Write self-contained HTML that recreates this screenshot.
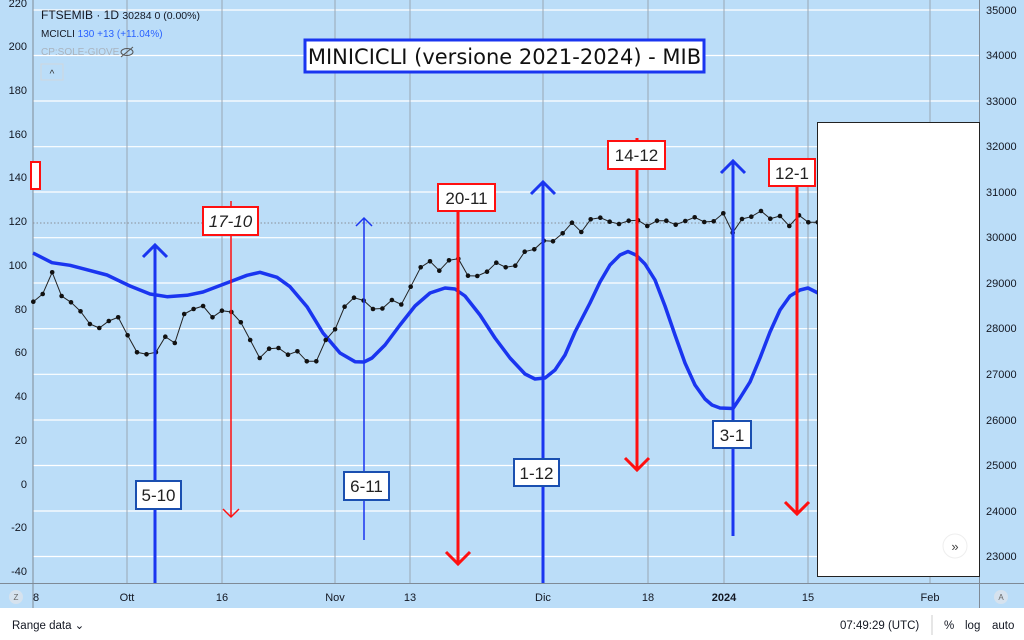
<!DOCTYPE html>
<html><head><meta charset="utf-8"><style>
html,body{margin:0;padding:0;width:1024px;height:640px;overflow:hidden;background:#fff;font-family:"Liberation Sans","DejaVu Sans",sans-serif}
</style></head><body>
<svg width="1024" height="640" viewBox="0 0 1024 640" xmlns="http://www.w3.org/2000/svg" font-family="Liberation Sans, DejaVu Sans, sans-serif">
<rect x="0" y="0" width="1024" height="608" fill="#bbddf8"/>
<rect x="0" y="608" width="1024" height="32" fill="#fff"/>
<!-- horizontal grid (right axis) -->
<g stroke="#ffffff" stroke-width="1.2">
<line x1="33" x2="979" y1="10" y2="10"/><line x1="33" x2="979" y1="55.5" y2="55.5"/><line x1="33" x2="979" y1="101" y2="101"/><line x1="33" x2="979" y1="146.7" y2="146.7"/><line x1="33" x2="979" y1="192" y2="192"/><line x1="33" x2="979" y1="237.7" y2="237.7"/><line x1="33" x2="979" y1="283" y2="283"/><line x1="33" x2="979" y1="328.7" y2="328.7"/><line x1="33" x2="979" y1="374.3" y2="374.3"/><line x1="33" x2="979" y1="420" y2="420"/><line x1="33" x2="979" y1="465.5" y2="465.5"/><line x1="33" x2="979" y1="511" y2="511"/><line x1="33" x2="979" y1="556.5" y2="556.5"/>
</g>
<!-- vertical grid -->
<g stroke="#9aa6b4" stroke-width="1">
<line x1="127" x2="127" y1="0" y2="583"/><line x1="222" x2="222" y1="0" y2="583"/><line x1="335" x2="335" y1="0" y2="583"/><line x1="410" x2="410" y1="0" y2="583"/><line x1="543" x2="543" y1="0" y2="583"/><line x1="648" x2="648" y1="0" y2="583"/><line x1="724" x2="724" y1="0" y2="583"/><line x1="808" x2="808" y1="0" y2="583"/><line x1="930" x2="930" y1="0" y2="583"/>
</g>
<!-- axes borders -->
<line x1="33" x2="33" y1="0" y2="608" stroke="#7f8a96"/>
<line x1="979.5" x2="979.5" y1="0" y2="608" stroke="#7f8a96"/>
<line x1="0" x2="1024" y1="583.5" y2="583.5" stroke="#7f8a96"/>
<!-- dotted line -->
<line x1="33" x2="979" y1="223" y2="223" stroke="#8a8f99" stroke-width="1" stroke-dasharray="1.5,2"/>
<!-- left axis -->
<g font-size="11" fill="#131722" text-anchor="end">
<text x="27" y="7">220</text><text x="27" y="50">200</text><text x="27" y="94">180</text><text x="27" y="138">160</text><text x="27" y="181">140</text><text x="27" y="225">120</text><text x="27" y="269">100</text><text x="27" y="313">80</text><text x="27" y="356">60</text><text x="27" y="400">40</text><text x="27" y="444">20</text><text x="27" y="488">0</text><text x="27" y="531">-20</text><text x="27" y="575">-40</text>
</g>
<!-- right axis -->
<g font-size="11" fill="#131722">
<text x="986" y="14">35000</text><text x="986" y="59">34000</text><text x="986" y="105">33000</text><text x="986" y="150">32000</text><text x="986" y="196">31000</text><text x="986" y="241">30000</text><text x="986" y="287">29000</text><text x="986" y="332">28000</text><text x="986" y="378">27000</text><text x="986" y="424">26000</text><text x="986" y="469">25000</text><text x="986" y="515">24000</text><text x="986" y="560">23000</text>
</g>
<!-- time axis -->
<g font-size="11" fill="#131722" text-anchor="middle">
<text x="36" y="601">8</text><text x="127" y="601">Ott</text><text x="222" y="601">16</text><text x="335" y="601">Nov</text><text x="410" y="601">13</text><text x="543" y="601">Dic</text><text x="648" y="601">18</text><text x="724" y="601" font-weight="bold">2024</text><text x="808" y="601">15</text><text x="930" y="601">Feb</text>
</g>
<circle cx="16" cy="597" r="7" fill="#d6e2ee"/><text x="16" y="600" font-size="8" fill="#666" text-anchor="middle">Z</text>
<circle cx="1001" cy="597" r="7" fill="#d6e2ee"/><text x="1001" y="600" font-size="8" fill="#666" text-anchor="middle">A</text>
<!-- bottom bar -->
<text x="12" y="629" font-size="11.5" fill="#131722">Range data ⌄</text>
<text x="840" y="629" font-size="11.5" fill="#131722">07:49:29 (UTC)</text>
<line x1="932" x2="932" y1="615" y2="635" stroke="#ccc"/>
<text x="944" y="629" font-size="11.5" fill="#131722">%</text>
<text x="965" y="629" font-size="11.5" fill="#131722">log</text>
<text x="992" y="629" font-size="11.5" fill="#131722">auto</text>
<!-- legend -->
<text x="41" y="19" font-size="12" fill="#131722">FTSEMIB · 1D <tspan font-size="10.5">30284 0 (0.00%)</tspan></text>
<text x="41" y="37" font-size="10" fill="#131722">MCICLI <tspan fill="#2962ff">130 +13 (+11.04%)</tspan></text>
<text x="41" y="55" font-size="10" fill="#a9b3be">CP:SOLE-GIOVE</text>
<ellipse cx="127" cy="52" rx="6" ry="3.5" fill="none" stroke="#555"/>
<line x1="121" y1="57" x2="133" y2="47" stroke="#555"/>
<rect x="41" y="64" width="22" height="16" fill="none" stroke="#cfd6de"/>
<text x="52" y="77" font-size="10" fill="#333" text-anchor="middle">^</text>
<!-- blue cycle curve -->
<polyline fill="none" stroke="#1a35f0" stroke-width="3.5" stroke-linejoin="round" points="33,253 52,262.7 70,265.3 83,268.7 107,275 130,286 150,294 167,296.7 187,295.3 203,292 230,281.7 247,275.3 260,272.3 277,277.3 290,286.7 307,306.7 323,333 340,353 355,361.7 364,362 372,358 385,345 400,325 415,306 430,293 445,288 455,289 465,296 480,315 495,338 510,358 525,374 535,379 545,378 555,370 565,355 575,332 590,303 600,282 610,265 620,255 628,251.5 636,255 645,264 655,280 665,306 675,335 685,363 695,385 705,399 712,405 720,408 733,408.5 740,398 750,382 760,358 770,332 780,310 790,296 800,290 808,288 818,293"/>
<!-- black price series -->
<g id="px">
<polyline fill="none" stroke="#222" stroke-width="1" points="33.3,301.7 42.7,294 52.2,272.3 61.6,296 71,302.3 80.5,311.3 89.9,324 99.3,328 108.8,321 118.2,317.3 127.6,335.3 137,352.3 146.5,354.3 155.9,352.3 165.3,336.7 174.8,343 184.2,314 193.6,309 203.1,306 212.5,317.3 221.9,310.7 231.4,312 240.8,322.3 250.2,340 259.7,358 269.1,348.7 278.5,348 288,354.7 297.4,351.3 306.8,361.3 316.3,361.3 325.7,340 335.1,329.3 344.6,306.7 354,297.7 363.6,300.5 373,309 382.4,308.5 391.9,300 401.3,304.5 410.7,286.7 420.7,267.3 430,261.3 439.3,270.7 449,260.3 458.3,258.7 468,275.7 477.3,276 487,271.7 496.3,262.7 505.7,267.3 515.3,265.7 524.7,251.7 534.3,249.3 543.7,240.7 553,241.3 562.7,233.3 572,222.7 581.3,232 590.7,219.3 600.3,217.7 609.7,221.7 619,224 628.7,220.7 638,220.3 647.3,226 657,220.7 666.3,220.7 675.7,224.7 685.3,221 694.7,217.3 704.3,222 713.7,221.3 723.3,213.3 732.7,232.7 742,219 751.3,216.7 761,211 770.3,218.7 780,216 789.3,226 799,215.3 808.3,222.3 817.7,222.3"/>
<g fill="#111">
<circle cx="33.3" cy="301.7" r="2.3"/><circle cx="42.7" cy="294" r="2.3"/><circle cx="52.2" cy="272.3" r="2.3"/><circle cx="61.6" cy="296" r="2.3"/><circle cx="71" cy="302.3" r="2.3"/><circle cx="80.5" cy="311.3" r="2.3"/><circle cx="89.9" cy="324" r="2.3"/><circle cx="99.3" cy="328" r="2.3"/><circle cx="108.8" cy="321" r="2.3"/><circle cx="118.2" cy="317.3" r="2.3"/><circle cx="127.6" cy="335.3" r="2.3"/><circle cx="137" cy="352.3" r="2.3"/><circle cx="146.5" cy="354.3" r="2.3"/><circle cx="155.9" cy="352.3" r="2.3"/><circle cx="165.3" cy="336.7" r="2.3"/><circle cx="174.8" cy="343" r="2.3"/><circle cx="184.2" cy="314" r="2.3"/><circle cx="193.6" cy="309" r="2.3"/><circle cx="203.1" cy="306" r="2.3"/><circle cx="212.5" cy="317.3" r="2.3"/><circle cx="221.9" cy="310.7" r="2.3"/><circle cx="231.4" cy="312" r="2.3"/><circle cx="240.8" cy="322.3" r="2.3"/><circle cx="250.2" cy="340" r="2.3"/><circle cx="259.7" cy="358" r="2.3"/><circle cx="269.1" cy="348.7" r="2.3"/><circle cx="278.5" cy="348" r="2.3"/><circle cx="288" cy="354.7" r="2.3"/><circle cx="297.4" cy="351.3" r="2.3"/><circle cx="306.8" cy="361.3" r="2.3"/><circle cx="316.3" cy="361.3" r="2.3"/><circle cx="325.7" cy="340" r="2.3"/><circle cx="335.1" cy="329.3" r="2.3"/><circle cx="344.6" cy="306.7" r="2.3"/><circle cx="354" cy="297.7" r="2.3"/><circle cx="363.6" cy="300.5" r="2.3"/><circle cx="373" cy="309" r="2.3"/><circle cx="382.4" cy="308.5" r="2.3"/><circle cx="391.9" cy="300" r="2.3"/><circle cx="401.3" cy="304.5" r="2.3"/><circle cx="410.7" cy="286.7" r="2.3"/><circle cx="420.7" cy="267.3" r="2.3"/><circle cx="430" cy="261.3" r="2.3"/><circle cx="439.3" cy="270.7" r="2.3"/><circle cx="449" cy="260.3" r="2.3"/><circle cx="458.3" cy="258.7" r="2.3"/><circle cx="468" cy="275.7" r="2.3"/><circle cx="477.3" cy="276" r="2.3"/><circle cx="487" cy="271.7" r="2.3"/><circle cx="496.3" cy="262.7" r="2.3"/><circle cx="505.7" cy="267.3" r="2.3"/><circle cx="515.3" cy="265.7" r="2.3"/><circle cx="524.7" cy="251.7" r="2.3"/><circle cx="534.3" cy="249.3" r="2.3"/><circle cx="543.7" cy="240.7" r="2.3"/><circle cx="553" cy="241.3" r="2.3"/><circle cx="562.7" cy="233.3" r="2.3"/><circle cx="572" cy="222.7" r="2.3"/><circle cx="581.3" cy="232" r="2.3"/><circle cx="590.7" cy="219.3" r="2.3"/><circle cx="600.3" cy="217.7" r="2.3"/><circle cx="609.7" cy="221.7" r="2.3"/><circle cx="619" cy="224" r="2.3"/><circle cx="628.7" cy="220.7" r="2.3"/><circle cx="638" cy="220.3" r="2.3"/><circle cx="647.3" cy="226" r="2.3"/><circle cx="657" cy="220.7" r="2.3"/><circle cx="666.3" cy="220.7" r="2.3"/><circle cx="675.7" cy="224.7" r="2.3"/><circle cx="685.3" cy="221" r="2.3"/><circle cx="694.7" cy="217.3" r="2.3"/><circle cx="704.3" cy="222" r="2.3"/><circle cx="713.7" cy="221.3" r="2.3"/><circle cx="723.3" cy="213.3" r="2.3"/><circle cx="732.7" cy="232.7" r="2.3"/><circle cx="742" cy="219" r="2.3"/><circle cx="751.3" cy="216.7" r="2.3"/><circle cx="761" cy="211" r="2.3"/><circle cx="770.3" cy="218.7" r="2.3"/><circle cx="780" cy="216" r="2.3"/><circle cx="789.3" cy="226" r="2.3"/><circle cx="799" cy="215.3" r="2.3"/><circle cx="808.3" cy="222.3" r="2.3"/><circle cx="817.7" cy="222.3" r="2.3"/>
</g></g>
<!-- blue arrows (up) -->
<g stroke="#1a35f0" fill="none">
<g stroke-width="3"><line x1="155" y1="583" x2="155" y2="245"/><polyline points="143,257 155,245 167,257"/></g>
<g stroke-width="1.5"><line x1="364" y1="540" x2="364" y2="218"/><polyline points="356,226 364,218 372,226"/></g>
<g stroke-width="3"><line x1="543" y1="583" x2="543" y2="182"/><polyline points="531,194 543,182 555,194"/></g>
<g stroke-width="3"><line x1="733" y1="536" x2="733" y2="161"/><polyline points="721,173 733,161 745,173"/></g>
</g>
<!-- red arrows (down) -->
<g stroke="#ff1010" fill="none">
<g stroke-width="1.5"><line x1="231" y1="201" x2="231" y2="517"/><polyline points="223,509 231,517 239,509"/></g>
<g stroke-width="3"><line x1="458" y1="183" x2="458" y2="564"/><polyline points="446,552 458,564 470,552"/></g>
<g stroke-width="3"><line x1="637" y1="138" x2="637" y2="470"/><polyline points="625,458 637,470 649,458"/></g>
<g stroke-width="3"><line x1="797" y1="158" x2="797" y2="514"/><polyline points="785,502 797,514 809,502"/></g>
</g>
<!-- label boxes -->
<g font-size="17" fill="#222" text-anchor="middle">
<rect x="136" y="481" width="45" height="28" fill="#fff" stroke="#1a4fb0" stroke-width="2"/><text x="158.5" y="501">5-10</text>
<rect x="344" y="472" width="45" height="28" fill="#fff" stroke="#1a4fb0" stroke-width="2"/><text x="366.5" y="492">6-11</text>
<rect x="514" y="459" width="45" height="27" fill="#fff" stroke="#1a4fb0" stroke-width="2"/><text x="536.5" y="479">1-12</text>
<rect x="713" y="421" width="38" height="27" fill="#fff" stroke="#1a4fb0" stroke-width="2"/><text x="732" y="441">3-1</text>
<rect x="203" y="207" width="55" height="28" fill="#fff" stroke="#ff1010" stroke-width="2"/><text x="230.5" y="227" font-style="italic">17-10</text>
<rect x="438" y="184" width="57" height="27" fill="#fff" stroke="#ff1010" stroke-width="2"/><text x="466.5" y="204">20-11</text>
<rect x="608" y="141" width="57" height="28" fill="#fff" stroke="#ff1010" stroke-width="2"/><text x="636.5" y="161">14-12</text>
<rect x="769" y="159" width="46" height="27" fill="#fff" stroke="#ff1010" stroke-width="2"/><text x="792" y="179">12-1</text>
<rect x="31" y="162" width="9" height="27" fill="#fff" stroke="#ff1010" stroke-width="2"/>
</g>
<!-- title -->
<rect x="305" y="40" width="399" height="32" fill="#fff" stroke="#1a35f0" stroke-width="3"/>
<text x="504.5" y="64" font-size="21" fill="#111" text-anchor="middle" font-family="DejaVu Sans, sans-serif">MINICICLI (versione 2021-2024) - MIB</text>
<!-- white box -->
<rect x="817.5" y="122.5" width="162" height="454" fill="#fff" stroke="#222" stroke-width="1"/>
<circle cx="955" cy="546" r="12" fill="#fff" stroke="#eee"/>
<text x="955" y="551" font-size="13" fill="#444" text-anchor="middle">»</text>
</svg>
</body></html>
